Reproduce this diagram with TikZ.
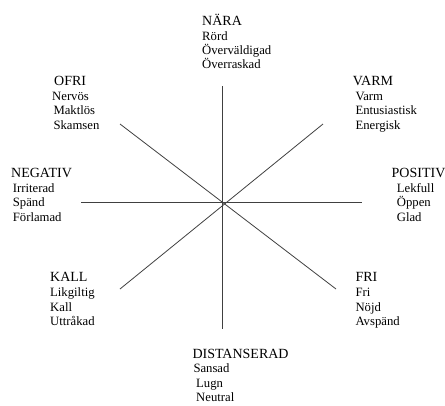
\documentclass[tikz,border=0pt]{standalone}
\usepackage{fontspec}
\setmainfont{Liberation Serif}
\begin{document}
\begin{tikzpicture}[x=1pt,y=-1pt,
  ttl/.style={anchor=base west,inner sep=0pt,font=\fontsize{14}{16}\selectfont},
  itm/.style={anchor=base west,inner sep=0pt,font=\fontsize{12.7}{15}\selectfont},
  axisline/.style={line width=0.8pt,draw=black!75}]
\useasboundingbox (0,0) rectangle (445,405);
% axes
\coordinate (n) at (222,86);
\coordinate (s) at (222,329);
\coordinate (w) at (81,202);
\coordinate (e) at (362,202);
\coordinate (nw) at (120,124);
\coordinate (se) at (336,289);
\coordinate (ne) at (323,124);
\coordinate (sw) at (120,289);
\draw[axisline] (n) -- (s);
\draw[axisline] (w) -- (e);
\draw[axisline] (nw) -- (se);
\draw[axisline] (ne) -- (sw);
% NÄRA
\node[ttl] (nara) at (202,25.7) {NÄRA};
\node[itm] (nara1) at (202,40) {Rörd};
\node[itm] (nara2) at (202,54.5) {Överväldigad};
\node[itm] (nara3) at (202,68.8) {Överraskad};
% OFRI
\node[ttl] (ofri) at (54,85) {OFRI};
\node[itm] (ofri1) at (52,100) {Nervös};
\node[itm] (ofri2) at (53.3,114.3) {Maktlös};
\node[itm] (ofri3) at (53.3,129.3) {Skamsen};
% VARM
\node[ttl] (varm) at (352.7,85) {VARM};
\node[itm] (varm1) at (355.3,100) {Varm};
\node[itm] (varm2) at (355.3,114.3) {Entusiastisk};
\node[itm] (varm3) at (355.3,129.3) {Energisk};
% NEGATIV
\node[ttl] (neg) at (11,177.7) {NEGATIV};
\node[itm] (neg1) at (12.7,192.7) {Irriterad};
\node[itm] (neg2) at (12.7,206.7) {Spänd};
\node[itm] (neg3) at (12.7,221.7) {Förlamad};
% POSITIV
\node[ttl] (pos) at (391.5,177.7) {POSITIV};
\node[itm] (pos1) at (396.7,192.7) {Lekfull};
\node[itm] (pos2) at (396.7,206.7) {Öppen};
\node[itm] (pos3) at (396.7,221.7) {Glad};
% KALL
\node[ttl] (kall) at (50,281.7) {KALL};
\node[itm] (kall1) at (50,296.7) {Likgiltig};
\node[itm] (kall2) at (50,311) {Kall};
\node[itm] (kall3) at (50,325.3) {Uttråkad};
% FRI
\node[ttl] (fri) at (355.3,281.7) {FRI};
\node[itm] (fri1) at (355.3,296.7) {Fri};
\node[itm] (fri2) at (355.3,311) {Nöjd};
\node[itm] (fri3) at (355.3,325.3) {Avspänd};
% DISTANSERAD
\node[ttl] (dist) at (192.3,358.3) {DISTANSERAD};
\node[itm] (dist1) at (193.3,372.7) {Sansad};
\node[itm] (dist2) at (196,387.7) {Lugn};
\node[itm] (dist3) at (196,401.7) {Neutral};
\end{tikzpicture}
\end{document}
